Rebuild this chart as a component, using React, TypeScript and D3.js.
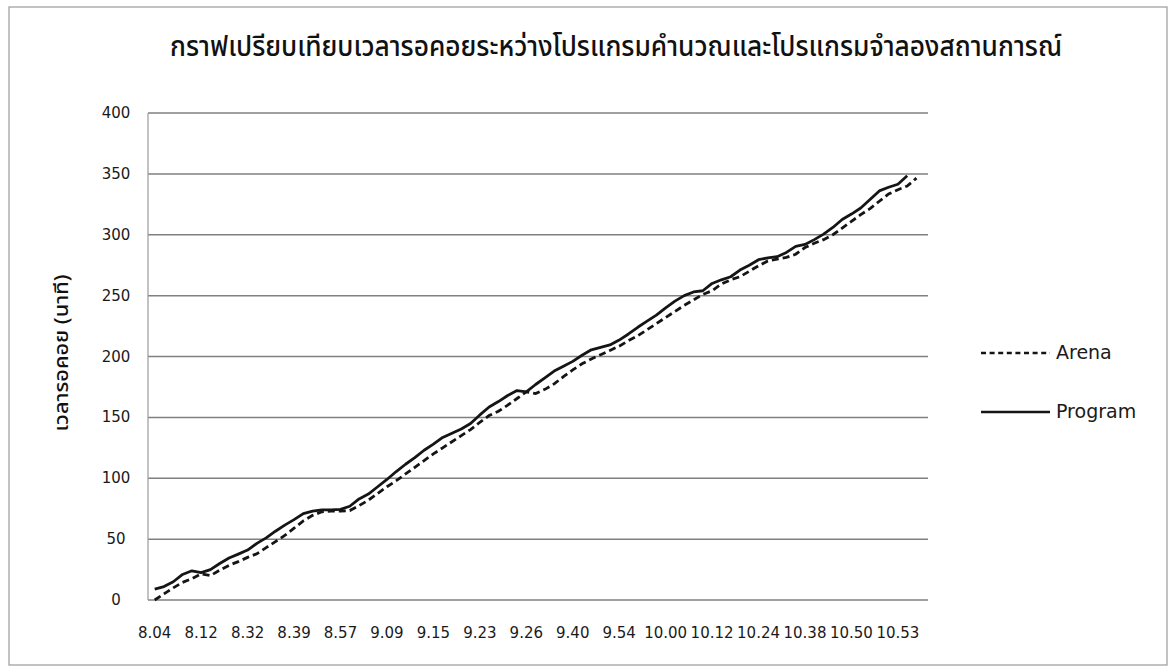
import React from "react";
import * as d3 from "d3";

const title = "กราฟเปรียบเทียบเวลารอคอยระหว่างโปรแกรมคำนวณและโปรแกรมจำลองสถานการณ์";
const yAxisTitle = "เวลารอคอย (นาที)";
const tickLabels = ["8.04", "8.12", "8.32", "8.39", "8.57", "9.09", "9.15", "9.23", "9.26", "9.40", "9.54", "10.00", "10.12", "10.24", "10.38", "10.50", "10.53"];
const labelEvery = 5;
const yTicks = [0, 50, 100, 150, 200, 250, 300, 350, 400];

const programValues = [
  9, 11, 15, 21, 24, 22.5, 25, 30, 34.5, 37.7,
  41, 46.5, 51, 56.5, 61.5, 66, 71, 73, 74, 74,
  74.5, 77, 83, 87, 93, 99, 105.5, 111.5, 117, 123,
  128, 133.5, 137, 140.5, 145, 152, 158.5, 163, 168, 172,
  171, 177, 182.5, 188, 192, 196, 201, 205.5, 207.5, 209.5,
  213.5, 218.5, 224, 229, 234, 240, 245.5, 250, 253, 254,
  260, 263, 265.5, 271, 275, 279.5, 281, 282, 285.5, 290.5,
  292, 296, 300.5, 306, 312.5, 317, 322, 329, 336, 339,
  341.5, 348.5,
];

const arenaValues = [
  0, 5, 10, 14.5, 17.5, 21.5, 20, 24.5, 28.5, 31.5,
  35, 38, 43, 48, 53, 59, 65, 69.5, 72.5, 73,
  73, 73.5, 77.5, 82, 87.5, 93, 98, 103.5, 109, 114.5,
  120, 125, 130, 135, 140, 146, 151.5, 155, 160, 165.5,
  171, 169.5, 173, 177.5, 183.5, 189, 194, 198, 201.5, 205,
  208.5, 213, 217, 222, 227, 232, 237, 242, 246.5, 251,
  254, 259.5, 263, 265.5, 270, 274.5, 278.5, 280, 281.5, 284,
  289.5, 293, 296, 300, 305.5, 311, 316.5, 321.5, 327.5, 333.5,
  337, 340, 346.5,
];

const seriesNames = ["Arena", "Program"];

const W = 1172;
const H = 672;
const plotLeft = 148;
const plotRight = 928;
const plotTop = 113;
const plotBottom = 600;

export default function App() {
  const nCats = Math.max(programValues.length, arenaValues.length);
  const cats = d3.range(nCats);
  const x = d3.scalePoint<number>().domain(cats).range([154.7, 154.7 + (nCats - 1) * 9.29]);
  const y = d3.scaleLinear().domain([0, 400]).range([plotBottom, plotTop]);

  const line = d3
    .line<number>()
    .x((_, i) => x(i) as number)
    .y((d) => y(d));

  const tickFont = "'DejaVu Sans', Verdana, sans-serif";
  const thaiFont = "'Noto Sans Thai', 'Noto Sans', 'DejaVu Sans', sans-serif";

  return (
    <div style={{ position: "fixed", left: 0, top: 0 }}>
      <svg width={W} height={H} style={{ display: "block", background: "#fff" }}>
        <rect x={9} y={7} width={1158} height={658} fill="#fff" stroke="#9a9a9a" strokeWidth={1.2} />
        <text
          x={616}
          y={56}
          textAnchor="middle"
          fontFamily={thaiFont}
          fontSize={28}
          fontWeight={500}
          fill="#111"
          textLength={892}
          lengthAdjust="spacingAndGlyphs"
        >
          {title}
        </text>
        <text
          transform={`translate(68,353) rotate(-90)`}
          textAnchor="middle"
          fontFamily={thaiFont}
          fontSize={20}
          fontWeight={500}
          fill="#111"
          textLength={157}
          lengthAdjust="spacingAndGlyphs"
        >
          {yAxisTitle}
        </text>
        {yTicks.map((t) => (
          <g key={t}>
            <line x1={plotLeft} x2={plotRight} y1={y(t)} y2={y(t)} stroke="#808080" strokeWidth={1.5} />
            <text x={116} y={y(t) + 5} textAnchor="middle" fontFamily={tickFont} fontSize={15} fill="#1a1a1a">
              {t}
            </text>
          </g>
        ))}
        <line x1={plotLeft} x2={plotLeft} y1={plotTop} y2={plotBottom} stroke="#999" strokeWidth={1.2} />
        {tickLabels.map((lab, k) => (
          <text
            key={lab}
            x={x(k * labelEvery) as number}
            y={638}
            textAnchor="middle"
            fontFamily={tickFont}
            fontSize={15}
            fill="#1a1a1a"
          >
            {lab}
          </text>
        ))}
        <path d={line(arenaValues) || ""} fill="none" stroke="#151515" strokeWidth={2.8} strokeDasharray="7,4" />
        <path d={line(programValues) || ""} fill="none" stroke="#151515" strokeWidth={2.8} strokeLinejoin="round" />
        <g>
          <line x1={981} x2={1050} y1={353} y2={353} stroke="#151515" strokeWidth={2.6} strokeDasharray="5,3.6" />
          <text x={1056} y={359} fontFamily={tickFont} fontSize={19} fill="#1a1a1a">
            {seriesNames[0]}
          </text>
          <line x1={981} x2={1050} y1={412} y2={412} stroke="#151515" strokeWidth={2.6} />
          <text x={1056} y={418} fontFamily={tickFont} fontSize={19} fill="#1a1a1a">
            {seriesNames[1]}
          </text>
        </g>
      </svg>
    </div>
  );
}
